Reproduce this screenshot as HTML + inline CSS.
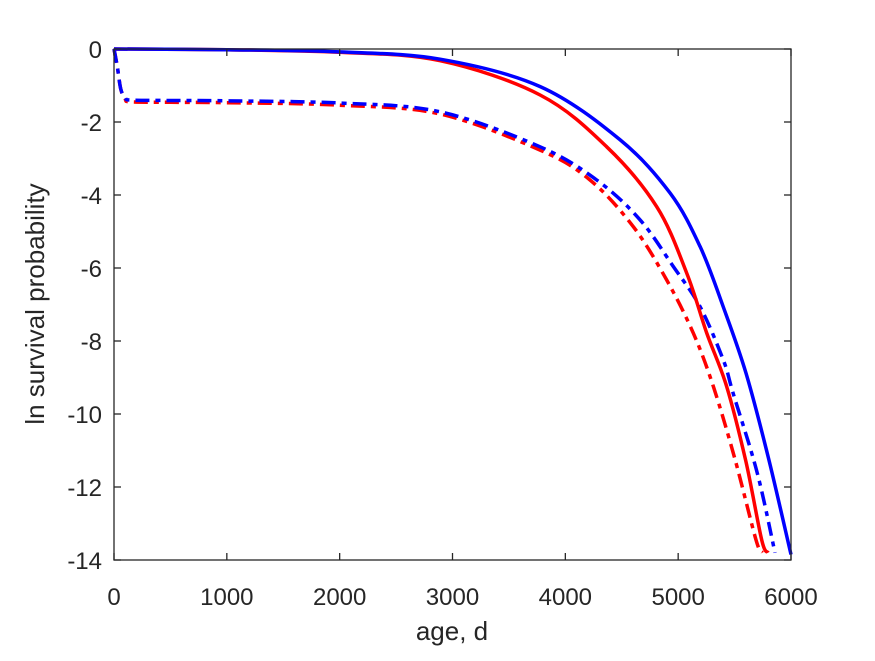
<!DOCTYPE html>
<html><head><meta charset="utf-8"><style>
body{margin:0;background:#fff;}
svg text{font-family:"Liberation Sans",sans-serif;fill:#262626;}
</style></head><body>
<svg id="chart" width="875" height="656" xmlns="http://www.w3.org/2000/svg">
<rect width="875" height="656" fill="#fff"/>
<g id="plot"></g>
<g id="axes"></g>
<text x="452" y="640" font-size="26" text-anchor="middle">age, d</text>
<text transform="translate(44,304) rotate(-90)" font-size="26" text-anchor="middle">ln survival probability</text>
</svg>
<script>
const xTicks=[0,1000,2000,3000,4000,5000,6000];
const yTicks=[0,-2,-4,-6,-8,-10,-12,-14];
const blueSolidAge=[0,1000,2000,2890,3777,4486,4929,5195,5399,5601,5800,6000];
const blueSolidVal=[0,-0.02,-0.08,-0.28,-1.03,-2.49,-3.95,-5.42,-7.06,-8.88,-11.2,-13.85];
const redSolidAge=[0,1000,2000,2890,3776,4367,4810,5076,5253,5430,5600,5740,5797];
const redSolidVal=[0,-0.02,-0.09,-0.32,-1.26,-2.68,-4.32,-6.14,-7.78,-9.25,-11.3,-13.45,-13.8];
const blueDashAge=[0,30,60,100,150,500,1000,2000,2890,3776,4278,4662,4957,5194,5400,5486,5700,5858];
const blueDashVal=[0,-0.5,-1.1,-1.33,-1.4,-1.41,-1.42,-1.48,-1.72,-2.68,-3.59,-4.68,-5.96,-7.06,-8.52,-9.42,-11.6,-13.8];
const redDashAge=[0,30,60,100,150,500,1000,2000,2890,3776,4219,4603,4898,5135,5312,5500,5690,5745];
const redDashVal=[0,-0.5,-1.1,-1.38,-1.45,-1.46,-1.47,-1.54,-1.78,-2.77,-3.59,-4.87,-6.33,-7.79,-9.25,-11.2,-13.45,-13.8];

const L=114,R=791,T=49,B=560;
const sx=v=>L+(v-0)/6000*(R-L);
const sy=v=>T+(0-v)/14*(B-T);
const NS="http://www.w3.org/2000/svg";
const plot=document.getElementById('plot'),axes=document.getElementById('axes');
function mk(tag,attrs,parent){const e=document.createElementNS(NS,tag);for(const k in attrs)e.setAttribute(k,attrs[k]);parent.appendChild(e);return e;}
function smoothPath(P){
  let d='M'+P[0][0].toFixed(1)+','+P[0][1].toFixed(1);
  for(let i=0;i<P.length-1;i++){
    const p0=P[i-1]||P[i],p1=P[i],p2=P[i+1],p3=P[i+2]||P[i+1];
    const c1=[p1[0]+(p2[0]-p0[0])/6,p1[1]+(p2[1]-p0[1])/6];
    const c2=[p2[0]-(p3[0]-p1[0])/6,p2[1]-(p3[1]-p1[1])/6];
    d+=' C'+c1.map(v=>v.toFixed(1)).join(',')+' '+c2.map(v=>v.toFixed(1)).join(',')+' '+p2[0].toFixed(1)+','+p2[1].toFixed(1);
  }
  return d;
}
function series(ages,vals,color,dash,name){
  const pts=ages.map((a,i)=>[sx(a),sy(vals[i])]);
  const p=mk('path',{d:smoothPath(pts),fill:'none',stroke:color,'stroke-width':3.5,'stroke-dasharray':dash,'stroke-linejoin':'round'},plot);
  
  
}
series(redDashAge,redDashVal,'#ff0000','14 6 5 6','red-dashdot-line');
series(blueDashAge,blueDashVal,'#0000ff','14 6 5 6','blue-dashdot-line');
series(redSolidAge,redSolidVal,'#ff0000','none','red-solid-line');
series(blueSolidAge,blueSolidVal,'#0000ff','none','blue-solid-line');

const frame=mk('rect',{x:L,y:T,width:R-L,height:B-T,fill:'none',stroke:'#262626','stroke-width':1.3},axes);


xTicks.forEach(t=>{
  const x=sx(t);
  mk('line',{x1:x,x2:x,y1:B,y2:B-7,stroke:'#262626','stroke-width':1.3},axes);
  mk('line',{x1:x,x2:x,y1:T,y2:T+7,stroke:'#262626','stroke-width':1.3},axes);
  const tx=mk('text',{x:x,y:B+45,'font-size':24,'text-anchor':'middle'},axes);
  tx.textContent=t;
  
  
});
yTicks.forEach(t=>{
  const y=sy(t);
  mk('line',{x1:L,x2:L+7,y1:y,y2:y,stroke:'#262626','stroke-width':1.3},axes);
  mk('line',{x1:R,x2:R-7,y1:y,y2:y,stroke:'#262626','stroke-width':1.3},axes);
  const tx=mk('text',{x:L-12,y:y+9,'font-size':24,'text-anchor':'end'},axes);
  tx.textContent=t;
  
  
});
</script>
</body></html>
